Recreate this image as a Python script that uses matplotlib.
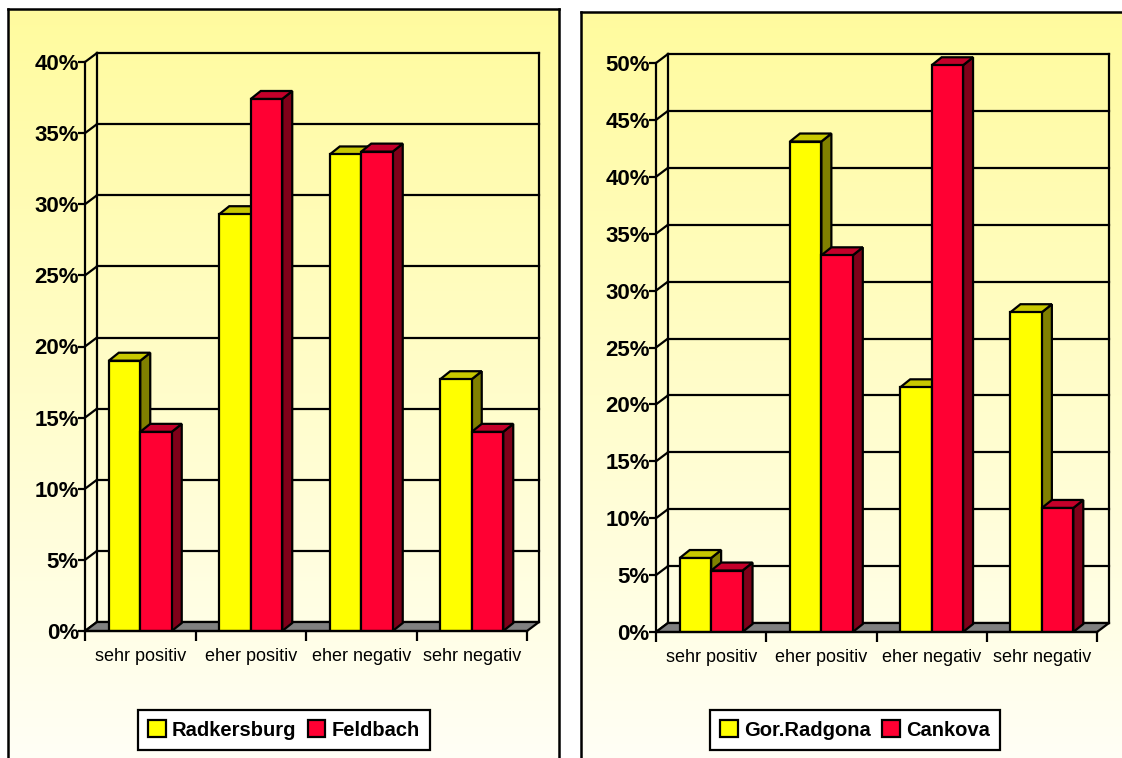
import matplotlib
matplotlib.use("Agg")
import matplotlib.pyplot as plt
import numpy as np
from matplotlib.patches import Polygon, Patch
from matplotlib.colors import LinearSegmentedColormap

plt.rcParams['font.family'] = ['Liberation Sans', 'DejaVu Sans']

# data (percent)
categories = ['sehr positiv', 'eher positiv', 'eher negativ', 'sehr negativ']

left_names = ['Radkersburg', 'Feldbach']
radkersburg = [19.0, 29.3, 33.5, 17.7]
feldbach = [14.0, 37.4, 33.7, 14.0]
left_ticks = [0, 5, 10, 15, 20, 25, 30, 35, 40]

right_names = ['Gor.Radgona', 'Cankova']
gor_radgona = [6.5, 43.1, 21.5, 28.1]
cankova = [5.4, 33.1, 49.8, 10.9]
right_ticks = [0, 5, 10, 15, 20, 25, 30, 35, 40, 45, 50]

W, H = 1122, 758

# front, side, top colours for each series
YELLOW = ('#FFFF00', '#808000', '#C8C800')
RED = ('#FF0033', '#7F0019', '#C4002A')


def fig_rect(x0, y0, x1, y1):
  # pixel box (top-left origin) -> figure fraction rect
  return [x0 / W, 1 - y1 / H, (x1 - x0) / W, (y1 - y0) / H]


def draw_background(fig, box, hide):
  ax = fig.add_axes(fig_rect(*box))
  cmap = LinearSegmentedColormap.from_list('bg', [(1.0, 0.984, 0.62), (1.0, 1.0, 0.965)])
  grad = np.linspace(0, 1, 256).reshape(-1, 1)
  ax.imshow(grad, extent=[0, 1, 0, 1], aspect='auto', cmap=cmap, origin='upper')
  ax.set_xlim(0, 1)
  ax.set_ylim(0, 1)
  ax.set_xticks([])
  ax.set_yticks([])
  for s in ax.spines.values():
    s.set_linewidth(1.8)
  for s in hide:
    ax.spines[s].set_visible(False)
  return ax


def draw_panel(fig, plot_box, series, names, yticks, legend_center):
  x0, y0, x1, y1 = plot_box
  ax = fig.add_axes(fig_rect(*plot_box))
  ax.set_facecolor('none')
  ncat = len(categories)
  ymax = yticks[-1]
  ax.set_xlim(0, ncat)
  ax.set_ylim(0, ymax)

  # pixel depth -> data units
  sx = ncat / (x1 - x0)
  sy = ymax / (y1 - y0)
  wdx, wdy = 12 * sx, 9 * sy
  bdx, bdy = 10 * sx, 8 * sy

  lw = 1.6
  # back wall + side wall grid
  for v in yticks:
    ax.plot([wdx, ncat + wdx], [v + wdy, v + wdy], color='k', lw=lw, zorder=1, clip_on=False)
    ax.plot([0, wdx], [v, v + wdy], color='k', lw=lw, zorder=1, clip_on=False)
  ax.plot([wdx, wdx], [wdy, ymax + wdy], color='k', lw=lw, zorder=1, clip_on=False)
  ax.plot([ncat + wdx, ncat + wdx], [wdy, ymax + wdy], color='k', lw=lw, zorder=1, clip_on=False)

  # floor
  floor = Polygon([(0, 0), (ncat, 0), (ncat + wdx, wdy), (wdx, wdy)],
                  closed=True, fc='#808080', ec='k', lw=lw, zorder=2, clip_on=False)
  ax.add_patch(floor)

  w = 0.285
  colors = [YELLOW, RED]
  for j, vals in enumerate(series):
    front, side, top = colors[j]
    xs = np.arange(ncat) + 0.5 + (j - 0.5) * w
    z = 3 + 2 * j
    for x, v in zip(xs, vals):
      r = x + w / 2
      l = x - w / 2
      ax.add_patch(Polygon([(r, 0), (r + bdx, bdy), (r + bdx, v + bdy), (r, v)],
                           closed=True, fc=side, ec='k', lw=lw, zorder=z, clip_on=False))
      ax.add_patch(Polygon([(l, v), (r, v), (r + bdx, v + bdy), (l + bdx, v + bdy)],
                           closed=True, fc=top, ec='k', lw=lw, zorder=z, clip_on=False))
    ax.bar(xs, vals, width=w, color=front, edgecolor='k', linewidth=lw, zorder=z + 1)

  # axes, ticks
  for s in ['top', 'right']:
    ax.spines[s].set_visible(False)
  for s in ['left', 'bottom']:
    ax.spines[s].set_linewidth(lw)
    ax.spines[s].set_zorder(10)
  ax.set_yticks(yticks)
  ax.set_yticklabels([f'{v}%' for v in yticks], fontsize=16, fontweight='bold')
  ax.tick_params(axis='y', length=5, width=lw, pad=-0.5)
  ax.set_xticks(range(ncat + 1))
  ax.set_xticklabels([])
  ax.tick_params(axis='x', which='major', length=7, width=lw)
  ax.set_xticks(np.arange(ncat) + 0.5, minor=True)
  ax.set_xticklabels(categories, minor=True, fontsize=13)
  ax.tick_params(axis='x', which='minor', length=0, pad=12)

  handles = [Patch(fc=colors[j][0], ec='k', lw=lw) for j in range(len(series))]
  leg = ax.legend(handles, names, loc='center', ncol=2,
                  bbox_to_anchor=(legend_center[0] / W, 1 - legend_center[1] / H),
                  bbox_transform=fig.transFigure, frameon=True, fancybox=False,
                  edgecolor='k', framealpha=1, prop={'size': 14.5, 'weight': 'bold'},
                  handlelength=0.85, handleheight=0.9, handletextpad=0.3,
                  columnspacing=0.6, borderpad=0.5)
  leg.get_frame().set_linewidth(lw)
  return ax


fig = plt.figure(figsize=(W / 100, H / 100), dpi=100)
fig.patch.set_facecolor('white')

draw_background(fig, (8, 9, 559, H + 5), ['bottom'])
draw_background(fig, (581, 12, W + 5, H + 5), ['bottom', 'right'])

draw_panel(fig, (85, 62, 527, 631), [radkersburg, feldbach], left_names, left_ticks, (284, 730))
draw_panel(fig, (656, 63, 1097, 632), [gor_radgona, cankova], right_names, right_ticks, (855, 730))

fig.savefig('out.png', dpi=100)
